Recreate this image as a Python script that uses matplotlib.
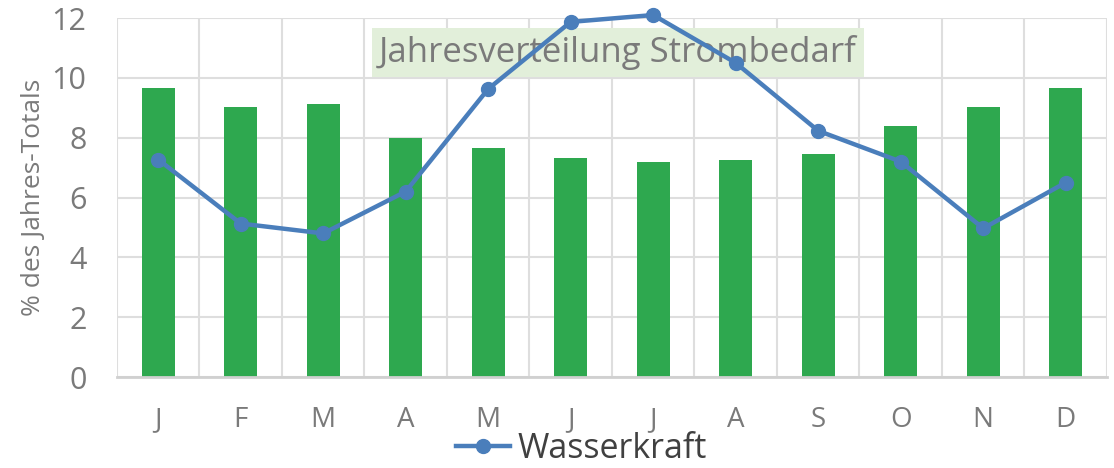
import numpy as np
import matplotlib
matplotlib.use("Agg")
import matplotlib.pyplot as plt

plt.rcParams['font.family'] = ['Open Sans', 'DejaVu Sans']

months = ['J', 'F', 'M', 'A', 'M', 'J', 'J', 'A', 'S', 'O', 'N', 'D']
strombedarf = [9.67, 9.03, 9.13, 8.0, 7.67, 7.33, 7.2, 7.27, 7.47, 8.4, 9.03, 9.67]
wasserkraft = [7.27, 5.13, 4.8, 6.2, 9.63, 11.87, 12.1, 10.5, 8.23, 7.2, 4.97, 6.5]
yticks = [0, 2, 4, 6, 8, 10, 12]

green = '#2ea84f'
blue = '#4a7ebb'
grid_c = '#dedede'
text_c = '#7a7a7a'

fig = plt.figure(figsize=(11.14, 4.68), dpi=100)
ax = fig.add_axes([0.105, 0.1944, 0.8887, 0.7671])

x = np.arange(len(months))
ax.bar(x, strombedarf, width=0.4, color=green, zorder=2)
ax.plot(x, wasserkraft, color=blue, lw=3.2, marker='o', ms=10,
        label='Wasserkraft', zorder=4, clip_on=False)

ax.set_xlim(-0.5, 11.5)
ax.set_ylim(0, 12)
ax.set_xticks(x)
ax.set_xticklabels(months)
ax.set_xticks(np.arange(-0.5, 12, 1), minor=True)
ax.set_yticks(yticks)
ax.grid(True, axis='y', color=grid_c, lw=1.5, zorder=0)
ax.grid(True, axis='x', which='minor', color=grid_c, lw=1.5, zorder=0)
ax.tick_params(which='both', length=0)
ax.tick_params(axis='x', pad=21, labelsize=20, labelcolor=text_c)
ax.tick_params(axis='y', pad=22, labelsize=22, labelcolor=text_c)
for s in ['top', 'right', 'left']:
    ax.spines[s].set_visible(False)
ax.spines['bottom'].set_color('#d0d0d0')
ax.spines['bottom'].set_linewidth(2)

ax.set_ylabel('% des Jahres-Totals', fontsize=19, color=text_c, labelpad=4)

ax.text(0.506, 0.905, 'Jahresverteilung Strombedarf', transform=ax.transAxes,
        ha='center', va='center', fontsize=25, color=text_c, zorder=3,
        bbox=dict(boxstyle='square,pad=0.2', fc='#e2efda', ec='none'))

leg = ax.legend(loc='center', bbox_to_anchor=(0.469, -0.2), frameon=False,
                fontsize=24.5, handlelength=1.6, handletextpad=0.2,
                borderpad=0, labelcolor='#404040')

fig.savefig('out.png', dpi=100)
